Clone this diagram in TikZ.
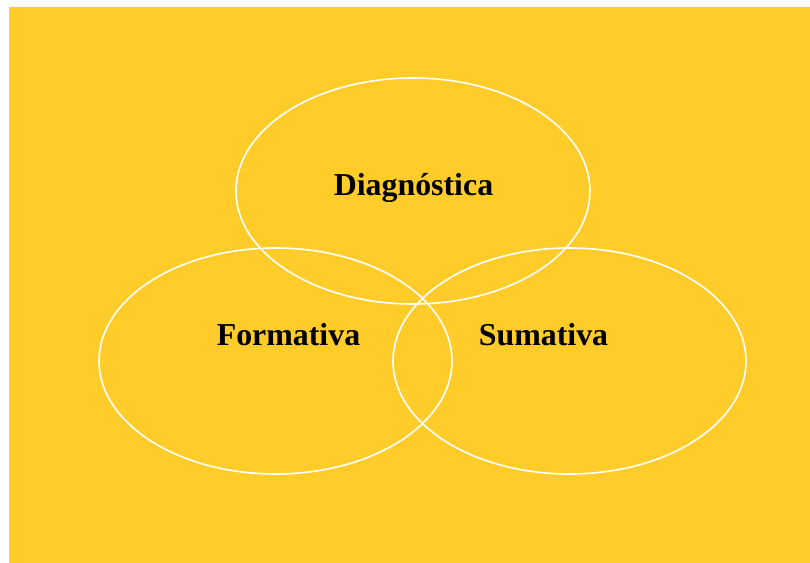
\documentclass[tikz,border=0pt]{standalone}
\usepackage{fontspec}
\setmainfont{Liberation Serif}
\definecolor{bgyellow}{RGB}{255,204,41}
\begin{document}
\begin{tikzpicture}[x=1bp,y=-1bp,
  ring/.style={draw=white,line width=1.6bp},
  label/.style={font=\fontsize{32}{36}\selectfont\bfseries,anchor=base,inner sep=0pt,text=black}]
\useasboundingbox (0,0) rectangle (810,563);
\fill[bgyellow] (9,7) rectangle (810,563);
\draw[ring] (413,191) ellipse [x radius=177, y radius=113];
\draw[ring] (275.5,361) ellipse [x radius=176.5, y radius=113];
\draw[ring] (569.5,361) ellipse [x radius=176.5, y radius=113];
\node[label] (diag) at (413.5,196) {Diagnóstica};
\node[label] (form) at (288.5,345) {Formativa};
\node[label] (suma) at (543.5,345) {Sumativa};
\end{tikzpicture}
\end{document}
